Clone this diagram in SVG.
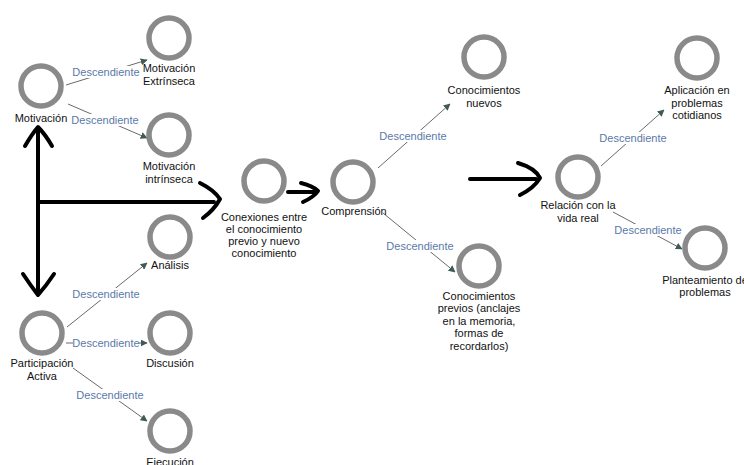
<svg xmlns="http://www.w3.org/2000/svg" width="744" height="465" viewBox="0 0 744 465">
<defs>
<marker id="ah" viewBox="0 0 10 10" refX="9" refY="5" markerWidth="7" markerHeight="7" markerUnits="userSpaceOnUse" orient="auto">
<path d="M0,0 L10,5 L0,10 z" fill="#3f5a58"/>
</marker>
<style>
.n circle{fill:none;stroke:#8a8a8a;stroke-width:5.5}
.n text{font-family:"Liberation Sans",Arial,sans-serif;font-size:11px;fill:#111;text-anchor:middle}
.e line{stroke:#6a6a6a;stroke-width:1;marker-end:url(#ah)}
.e rect{fill:#fff}
.e text{font-family:"Liberation Sans",Arial,sans-serif;font-size:11px;fill:#5b79a8;text-anchor:middle}
.b path{fill:none;stroke:#000;stroke-width:4;stroke-linecap:round;stroke-linejoin:round}
</style>
</defs>
<rect width="744" height="465" fill="#fff"/>
<g id="connectors" class="e">
<line x1="66" y1="85" x2="147" y2="60"/>
<rect x="73" y="66" width="66" height="12"/><text x="106" y="76">Descendiente</text>
<line x1="68" y1="104" x2="147" y2="138"/>
<rect x="72" y="114" width="66" height="12"/><text x="105" y="124">Descendiente</text>
<line x1="67" y1="327" x2="147" y2="263"/>
<rect x="73" y="288" width="66" height="12"/><text x="106" y="298">Descendiente</text>
<line x1="66" y1="343" x2="147" y2="343"/>
<rect x="73" y="337" width="66" height="12"/><text x="106" y="347">Descendiente</text>
<line x1="73" y1="368" x2="147" y2="421"/>
<rect x="77" y="389" width="66" height="12"/><text x="110" y="399">Descendiente</text>
<line x1="378" y1="168" x2="450" y2="104"/>
<rect x="380" y="130" width="66" height="12"/><text x="413" y="140">Descendiente</text>
<line x1="383" y1="213" x2="455" y2="272"/>
<rect x="387" y="240" width="66" height="12"/><text x="420" y="250">Descendiente</text>
<line x1="601" y1="166" x2="664" y2="110"/>
<rect x="600" y="132" width="66" height="12"/><text x="633" y="142">Descendiente</text>
<line x1="613" y1="212" x2="682" y2="249"/>
<rect x="615" y="224" width="66" height="12"/><text x="648" y="234">Descendiente</text>
</g>
<g id="bigarrows" class="b">
<path d="M38,128 L38,294"/>
<path d="M25,146 Q32,134 38,127 Q45,134 52,146"/>
<path d="M23,274 Q31,286 38,295 Q46,286 54,274"/>
<path d="M38,202 L214,202"/>
<path d="M200,183 Q214,190 220,199 Q214,210 203,218"/>
<path d="M288,192 L314,192"/>
<path d="M301,183 Q313,186 318,191 Q314,197 303,202"/>
<path d="M470,179 L536,179"/>
<path d="M518,163 Q535,168 540,178 Q534,188 520,195"/>
</g>
<g id="motivacion" class="n"><circle cx="41" cy="86" r="20"/><text x="41" y="122">Motivación</text></g>
<g id="extrinseca" class="n"><circle cx="169" cy="38" r="20"/><text x="169" y="72">Motivación</text><text x="169" y="85">Extrínseca</text></g>
<g id="intrinseca" class="n"><circle cx="169" cy="135" r="20"/><text x="169" y="170">Motivación</text><text x="169" y="183">intrínseca</text></g>
<g id="analisis" class="n"><circle cx="170" cy="237" r="20"/><text x="170" y="269">Análisis</text></g>
<g id="participacion" class="n"><circle cx="42" cy="333" r="20"/><text x="42" y="367">Participación</text><text x="42" y="380">Activa</text></g>
<g id="discusion" class="n"><circle cx="170" cy="333" r="20"/><text x="170" y="367">Discusión</text></g>
<g id="ejecucion" class="n"><circle cx="170" cy="431" r="20"/><text x="170" y="466">Ejecución</text></g>
<g id="conexiones" class="n"><circle cx="264" cy="181" r="20"/><text x="264" y="221">Conexiones entre</text><text x="264" y="233">el conocimiento</text><text x="264" y="245">previo y nuevo</text><text x="264" y="257">conocimiento</text></g>
<g id="comprension" class="n"><circle cx="353" cy="182" r="20"/><text x="354" y="215">Comprensión</text></g>
<g id="nuevos" class="n"><circle cx="484" cy="57" r="20"/><text x="484" y="94">Conocimientos</text><text x="484" y="107">nuevos</text></g>
<g id="previos" class="n"><circle cx="479" cy="266" r="20"/><text x="479" y="300">Conocimientos</text><text x="479" y="312">previos (anclajes</text><text x="479" y="325">en la memoria,</text><text x="479" y="337">formas de</text><text x="479" y="350">recordarlos)</text></g>
<g id="relacion" class="n"><circle cx="578" cy="177" r="20"/><text x="578" y="209">Relación con la</text><text x="578" y="222">vida real</text></g>
<g id="aplicacion" class="n"><circle cx="697" cy="58" r="20"/><text x="697" y="94">Aplicación en</text><text x="697" y="107">problemas</text><text x="697" y="119">cotidianos</text></g>
<g id="planteamiento" class="n"><circle cx="705" cy="248" r="20"/><text x="705" y="284">Planteamiento de</text><text x="705" y="296">problemas</text></g>
</svg>
